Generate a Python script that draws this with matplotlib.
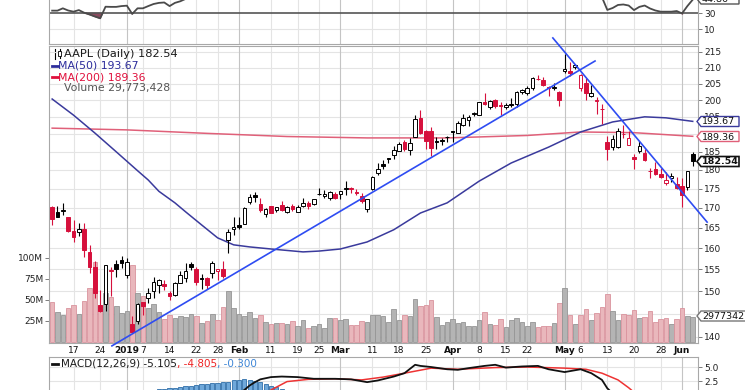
import numpy as np
import pandas as pd
import matplotlib
matplotlib.use("Agg")
import matplotlib.pyplot as plt
import matplotlib.transforms as mtransforms
from matplotlib.patches import Polygon, Rectangle
from matplotlib.lines import Line2D

plt.rcParams["font.family"] = ["DejaVu Sans"]

W, H = 745, 390

# trading days shown (Dec 11 2018 .. Jun 5 2019)
holidays = ["2018-12-25", "2019-01-01", "2019-01-21", "2019-02-18", "2019-04-19", "2019-05-27"]
dates = pd.bdate_range("2018-12-11", "2019-06-05", freq="C", holidays=holidays)
prev_close = 168.23

# dividend-adjusted OHLC as plotted
opens = [
    170.27, 169.02, 169.11, 167.63,
    164.11, 164.04, 164.66, 159.10, 155.59,
    146.95, 147.10, 154.58, 156.22,
    157.25, 153.64, 142.81, 143.36,
    147.50, 148.35, 150.06, 151.26, 151.64,
    149.63, 149.05, 151.84, 152.95, 156.22,
    155.14, 152.90, 152.86, 154.22,
    154.53, 154.98, 161.93, 164.76, 165.61,
    166.05, 171.46, 173.24, 171.00, 168.34,
    170.39, 169.45, 170.73, 169.06, 170.59,
    169.06, 170.53, 171.14, 170.92,
    173.49, 173.04, 172.54, 173.65, 173.61,
    175.02, 175.26, 174.00, 173.20, 169.67,
    174.82, 179.31, 181.55, 183.19, 184.14,
    185.09, 187.63, 185.51, 189.29, 194.59,
    190.77, 190.92, 188.03, 188.22, 189.10,
    190.90, 190.36, 192.51, 194.04, 195.70,
    195.67, 199.55, 197.92, 200.08, 198.44,
    197.82, 198.69, 198.77, 202.34,
    202.05, 203.65, 206.56, 206.04, 204.11,
    203.62, 202.28, 209.07, 209.03, 210.08,
    203.51, 205.09, 201.12, 199.63, 197.42,
    187.71, 186.41, 186.27, 189.91, 186.93,
    183.52, 185.22, 184.66, 179.80, 180.20,
    178.92, 176.42, 177.95, 176.23,
    175.60, 175.44, 184.28,
]
highs = [
    170.40, 170.53, 171.17, 167.71,
    166.99, 166.17, 166.09, 160.80, 156.88,
    150.32, 155.96, 155.50, 157.24,
    158.07, 157.56, 144.54, 147.35,
    147.62, 150.59, 153.28, 152.72, 152.46,
    150.04, 152.15, 154.62, 156.38, 156.60,
    155.46, 153.88, 153.23, 156.85,
    155.06, 156.85, 164.80, 167.63, 167.61,
    170.27, 173.66, 174.15, 172.53, 170.00,
    170.55, 170.34, 171.82, 170.60, 171.04,
    170.78, 172.65, 171.71, 172.34,
    175.19, 174.63, 174.33, 174.24, 174.48,
    177.07, 175.32, 174.82, 173.77, 172.41,
    178.43, 181.97, 182.60, 183.39, 186.61,
    187.67, 188.26, 188.76, 195.58, 196.93,
    191.24, 192.14, 189.03, 188.83, 189.35,
    190.94, 193.71, 195.75, 195.62, 196.34,
    199.46, 202.07, 199.97, 200.23, 199.37,
    199.08, 200.60, 202.60, 203.37,
    204.15, 206.95, 207.68, 206.96, 204.21,
    205.18, 202.62, 214.48, 211.83, 211.03,
    208.04, 206.62, 204.55, 200.91, 198.85,
    189.48, 189.70, 191.75, 192.47, 190.90,
    184.35, 188.00, 185.71, 180.54, 182.14,
    180.59, 179.35, 179.23, 177.99,
    177.92, 179.83, 184.99,
]
lows = [
    165.65, 167.65, 168.18, 163.94,
    161.41, 163.06, 157.80, 154.04, 148.42,
    145.40, 145.53, 148.85, 153.30,
    155.21, 152.98, 140.85, 142.64,
    144.72, 147.32, 148.42, 149.64, 150.28,
    148.01, 148.83, 151.76, 152.02, 154.72,
    151.38, 150.47, 150.51, 153.07,
    152.42, 152.86, 158.93, 163.23, 164.59,
    165.92, 170.95, 171.45, 168.96, 167.77,
    168.60, 169.05, 169.27, 168.73, 169.10,
    168.84, 170.33, 169.65, 170.72,
    173.28, 172.51, 172.07, 172.26, 172.23,
    173.30, 173.87, 173.27, 171.36, 168.85,
    174.68, 178.68, 180.23, 181.86, 183.03,
    185.08, 185.21, 184.02, 189.08, 190.05,
    185.88, 183.87, 185.83, 186.81, 187.82,
    187.66, 190.32, 192.41, 192.40, 195.18,
    195.59, 198.47, 197.42, 197.68, 195.46,
    197.25, 197.80, 197.85, 201.74,
    201.56, 203.12, 206.25, 204.33, 201.34,
    203.08, 198.35, 208.43, 207.33, 209.42,
    202.72, 200.06, 200.98, 195.90, 192.77,
    182.85, 185.41, 186.02, 188.84, 186.76,
    180.28, 184.70, 182.55, 177.81, 178.62,
    177.91, 176.00, 176.67, 174.99,
    170.27, 174.52, 181.14,
]
closes = [
    167.26, 167.73, 169.57, 164.14,
    162.61, 164.72, 159.59, 155.56, 149.51,
    145.64, 155.90, 154.89, 154.96,
    156.46, 156.64, 141.04, 147.06,
    146.73, 149.53, 152.07, 152.55, 151.06,
    148.79, 151.83, 153.69, 154.60, 155.55,
    152.06, 152.67, 151.46, 156.48,
    155.03, 153.43, 163.91, 165.09, 165.17,
    169.86, 172.77, 172.83, 169.56, 169.76,
    168.78, 170.23, 169.53, 170.14, 169.77,
    170.27, 171.37, 170.40, 172.31,
    173.56, 173.66, 174.20, 172.49, 174.30,
    175.17, 174.86, 173.85, 171.84, 172.25,
    178.21, 180.22, 181.01, 183.02, 185.41,
    187.30, 185.81, 187.44, 194.34, 190.32,
    188.02, 186.07, 187.75, 187.99, 189.22,
    190.51, 193.27, 194.60, 194.94, 196.24,
    199.33, 198.73, 199.85, 198.19, 198.11,
    198.46, 198.48, 202.35, 203.08,
    203.74, 206.68, 206.36, 204.49, 203.52,
    203.82, 199.90, 209.71, 208.35, 210.94,
    207.68, 202.08, 202.12, 199.95, 197.18,
    185.72, 188.66, 190.92, 190.08, 189.00,
    183.09, 186.60, 182.78, 179.66, 178.97,
    178.23, 177.38, 178.30, 175.07,
    173.30, 179.64, 182.54,
]
# volume, millions of shares
volumes = [
    47.3, 35.6, 31.9, 40.7,
    44.3, 33.8, 49.0, 64.8, 95.7,
    37.2, 58.6, 53.1, 42.3,
    35.0, 37.0, 91.3, 58.6,
    54.8, 41.0, 45.1, 35.8, 27.0,
    32.4, 28.7, 30.6, 29.8, 33.1,
    30.4, 23.1, 25.4, 33.5,
    26.2, 41.6, 61.1, 40.7, 32.7,
    31.5, 36.1, 28.2, 31.7, 23.8,
    20.9, 22.3, 22.5, 21.8, 24.6,
    19.0, 26.1, 17.2, 18.9,
    21.9, 17.1, 28.0, 28.2, 25.9,
    27.4, 19.7, 20.8, 24.8, 23.9,
    32.0, 32.5, 31.0, 23.6, 39.0,
    26.3, 31.6, 31.0, 51.0, 42.4,
    43.8, 49.8, 29.8, 20.8, 23.6,
    27.9, 22.8, 23.3, 19.1, 18.5,
    25.9, 35.8, 21.7, 20.6, 27.8,
    17.5, 25.7, 28.9, 24.2,
    19.4, 23.3, 17.5, 18.5, 18.6,
    22.2, 46.5, 64.8, 31.9, 20.9,
    32.4, 38.8, 26.3, 34.9, 41.2,
    57.4, 36.5, 26.5, 33.0, 32.1,
    38.6, 28.4, 29.7, 36.5, 23.7,
    27.9, 28.5, 21.2, 27.0,
    40.4, 31.0, 29.8,
]

# moving averages (trading-day index, price)
ma50_x = [0, 4, 8, 12, 16, 18, 20, 23, 25, 28, 31, 34, 37, 41, 47, 50, 54, 59, 64, 69, 74, 80, 86, 93, 99, 105, 111, 115, 120]
ma50_y = [200.3, 195.5, 190.3, 185.0, 179.8, 177.3, 174.3, 171.3, 169.0, 165.7, 162.5, 160.8, 160.3, 159.8, 159.1, 159.3,
          159.8, 161.5, 164.5, 168.7, 171.3, 177.0, 181.9, 186.3, 190.6, 193.5, 195.0, 194.7, 193.67]
ma200_x = [0, 14, 29, 44, 59, 74, 89, 99, 109, 120]
ma200_y = [191.7, 191.2, 190.2, 189.3, 188.9, 188.9, 189.6, 190.6, 190.4, 189.36]

# hand-drawn trend lines (index, price)
trend_up = ([11.2, 101.7], [138.1, 212.1])
trend_down = ([93.8, 122.7], [219.6, 166.4])

# RSI(14), visible parts only
rsi_left_x = list(range(0, 26))
rsi_left = [33.3, 33.3, 36.2, 33.5, 32.0, 34.0, 30.7, 28.5, 26.0, 23.7, 38.2, 38.0, 38.0, 39.0, 39.5, 29.2,
            36.2, 36.2, 39.0, 41.6, 43.0, 43.5, 39.0, 43.0, 45.0, 48.0]
rsi_right_x = list(range(103, 121))
rsi_right = [50.0, 34.2, 36.6, 40.4, 41.0, 39.7, 34.0, 38.0, 39.7, 36.0, 33.5, 32.0, 32.0, 32.0, 32.8, 29.8, 39.0, 47.0]

# MACD(12,26,9)
macd_x = [34, 36, 37, 38, 39, 41, 43, 46, 49, 53, 56, 59, 61, 64, 66, 68, 69, 71, 74, 76, 78, 81, 83, 85, 88, 91,
          93, 96, 99, 101, 103, 104, 105]
macd_y = [-0.3, 0.9, 1.7, 2.3, 2.8, 3.2, 3.3, 3.2, 2.9, 2.9, 2.8, 2.3, 2.6, 3.3, 3.9, 5.4, 5.2, 5.0, 4.6, 4.5, 4.8,
          5.2, 5.4, 4.9, 5.1, 5.2, 4.6, 4.1, 4.6, 3.9, 2.7, 1.2, 0.3]
signal_x = [40, 41, 44, 48, 53, 58, 62, 66, 71, 76, 83, 89, 96, 100, 103, 106, 108, 109]
signal_y = [0.4, 0.9, 2.4, 2.8, 2.9, 2.7, 3.2, 3.9, 4.8, 4.6, 4.9, 5.0, 4.8, 4.6, 3.9, 2.7, 1.3, 0.5]
hist_x = list(range(20, 44))
hist_y = [1.0, 1.1, 1.2, 1.3, 1.5, 1.6, 1.7, 1.8, 1.9, 2.0, 2.1, 2.2, 2.3, 2.4, 2.6, 2.7, 2.8, 2.7, 2.5, 2.3,
          2.0, 1.7, 1.4, 1.1]

tick_dates = ["2018-12-17", "2018-12-24", "2019-01-02", "2019-01-07", "2019-01-14", "2019-01-22", "2019-01-28",
              "2019-02-01", "2019-02-11", "2019-02-19", "2019-02-25", "2019-03-01", "2019-03-11", "2019-03-18",
              "2019-03-25", "2019-04-01", "2019-04-08", "2019-04-15", "2019-04-22", "2019-05-01", "2019-05-06",
              "2019-05-13", "2019-05-20", "2019-05-28", "2019-06-03"]
tick_labels = ["17", "24", "2019", "7", "14", "22", "28", "Feb", "11", "19", "25", "Mar", "11", "18", "25", "Apr",
               "8", "15", "22", "May", "6", "13", "20", "28", "Jun"]
price_ticks = list(range(140, 220, 5))
hidden_price_labels = [145, 190]   # sit under the value flags
vol_ticks = [25, 50, 75, 100]

RED = "#d6103c"
GRID = "#e4e4e4"
MGRID = "#c4c4c4"
FRAME = "#a8a8a8"

fig = plt.figure(figsize=(W / 100, H / 100), dpi=100)
px = mtransforms.Affine2D().scale(1 / W, -1 / H).translate(0, 1) + fig.transFigure


def rect(l, t, r, b):
    return [l / W, 1 - b / H, (r - l) / W, (b - t) / H]


xlim = (-0.59, 120.99)
pos = np.arange(len(dates))
tpos = [dates.get_loc(pd.Timestamp(d)) for d in tick_dates]
is_month = [not lab.isdigit() or lab == "2019" for lab in tick_labels]


def vgrid(ax):
    for p, m in zip(tpos, is_month):
        ax.axvline(p, color=MGRID if m else GRID, lw=0.8, zorder=0)


def frame(ax):
    for s in ax.spines.values():
        s.set_color(FRAME)
        s.set_linewidth(0.8)


# ---------------- main panel ----------------
axv = fig.add_axes(rect(49, 46, 698, 343), zorder=1)
axp = fig.add_axes(rect(49, 46, 698, 343), zorder=2)
axp.patch.set_visible(False)
axv.set_xlim(*xlim)
axp.set_xlim(*xlim)
axv.set_ylim(-1.2, 352)
axv.set_xticks([])
axv.set_yticks(vol_ticks, labels=[f"{v}M" for v in vol_ticks])
axv.tick_params(axis="y", length=3, width=0.6, color="#666", labelsize=6.5, pad=1, labelcolor="#222")
for s in axv.spines.values():
    s.set_visible(False)

axp.set_yscale("log")
axp.set_ylim(138.7, 216.95)
axp.set_yticks(price_ticks, labels=["" if v in hidden_price_labels else str(v) for v in price_ticks])
axp.minorticks_off()
axp.yaxis.tick_right()
axp.tick_params(axis="y", length=3, width=0.6, color="#666", labelsize=6.5, pad=1.5, labelcolor="#222")
axp.set_xticks(tpos, labels=tick_labels)
axp.tick_params(axis="x", length=0, labelsize=6.5, pad=2, labelcolor="#111")
for lab, m in zip(axp.get_xticklabels(), is_month):
    if m:
        lab.set_fontweight("bold")
frame(axp)
for v in price_ticks:
    axp.axhline(v, color=GRID, lw=0.8, zorder=0)
vgrid(axp)

o = np.array(opens)
hi = np.array(highs)
lo = np.array(lows)
c = np.array(closes)
prev = np.r_[prev_close, c[:-1]]
up = c >= prev
ccol = np.where(up, "black", RED)

# volume bars behind the candles, on the linear volume scale
vol_trans = mtransforms.blended_transform_factory(axp.transData, axv.transData)
for p, v, u in zip(pos, volumes, up):
    axp.add_patch(Rectangle((p - 0.43, 0), 0.86, v, transform=vol_trans,
                            facecolor="#b4b4b4" if u else "#e9b7bc",
                            edgecolor="#959595" if u else "#d9939d", lw=0.6, zorder=1))

axp.plot(ma200_x, ma200_y, color="#e06079", lw=1.1, zorder=2)
axp.plot(ma50_x, ma50_y, color="#3a3a9c", lw=1.1, zorder=2)

axp.vlines(pos, lo, hi, colors=ccol, lw=0.8, zorder=3)
bottom = np.minimum(o, c)
height = np.maximum(np.abs(c - o), 0.08)
face = np.where(c > o, "white", ccol)
axp.bar(pos, height, bottom=bottom, width=0.68, color=face, edgecolor=ccol, lw=0.7, zorder=4)

axp.plot(*trend_up, color="#2e4cf2", lw=1.2, zorder=5, clip_on=False)
axp.plot(*trend_down, color="#2e4cf2", lw=1.2, zorder=5, clip_on=False)

# ---------------- RSI panel (cropped at top) ----------------
axr = fig.add_axes(rect(49, -30, 698, 44), zorder=1)
axr.set_xlim(*xlim)
axr.set_ylim(-8.4, 84.1)
axr.set_xticks([])
axr.set_yticks([10, 30], labels=["10", "30"])
axr.yaxis.tick_right()
axr.tick_params(axis="y", length=3, width=0.6, color="#666", labelsize=6.5, pad=1.5, labelcolor="#222")
frame(axr)
axr.axhline(10, color=GRID, lw=0.8, zorder=0)
vgrid(axr)
axr.axhline(30, color="#555555", lw=1.2, zorder=2)
for xs, ys in ((rsi_left_x, rsi_left), (rsi_right_x, rsi_right)):
    xs = np.array(xs, float)
    ys = np.array(ys)
    axr.fill_between(xs, ys, 30, where=ys < 30, interpolate=True, color="#8a4a5e", zorder=1)
    axr.plot(xs, ys, color="#4a4a4a", lw=1.3, zorder=3)

# ---------------- MACD panel (cropped at bottom) ----------------
axm = fig.add_axes(rect(49, 357, 698, 420), zorder=1)
axm.set_xlim(*xlim)
axm.set_ylim(-4.46, 6.79)
axm.set_xticks([])
axm.set_yticks([2.5, 5.0], labels=["2.5", "5.0"])
axm.yaxis.tick_right()
axm.tick_params(axis="y", length=3, width=0.6, color="#666", labelsize=6.5, pad=1.5, labelcolor="#222")
frame(axm)
for v in (2.5, 5.0):
    axm.axhline(v, color=GRID, lw=0.8, zorder=0)
vgrid(axm)
axm.bar(hist_x, hist_y, width=0.8, color="#6fa8da", edgecolor="#2f6ea8", lw=0.6, zorder=1)
axm.plot(signal_x, signal_y, color="#ee3333", lw=1.1, zorder=2)
axm.plot(macd_x, macd_y, color="#111111", lw=1.3, zorder=3)

# ---------------- legends ----------------
fig.canvas.draw()
rend = fig.canvas.get_renderer()


def seq_text(x, y, parts, size):
    for s, col in parts:
        t = fig.text(x, y, s, transform=px, color=col, fontsize=size, va="center", ha="left", zorder=12)
        x += t.get_window_extent(renderer=rend).width


# candle glyph
fig.add_artist(Line2D([54.5, 54.5], [49, 59], transform=px, color="black", lw=0.8))
fig.add_artist(Rectangle((53, 51), 3, 6, transform=px, facecolor="black", edgecolor="black", lw=0.6))
fig.add_artist(Line2D([59.5, 59.5], [49, 58], transform=px, color="black", lw=0.8))
fig.add_artist(Rectangle((58, 51), 3, 5, transform=px, facecolor="white", edgecolor="black", lw=0.6, zorder=3))
seq_text(64, 54, [("AAPL (Daily) 182.54", "#1a1a1a")], 8.2)
fig.add_artist(Line2D([52, 57.5], [65.5, 65.5], transform=px, color="#2b2b9b", lw=2))
seq_text(58, 66, [("MA(50) 193.67", "#2b2b9b")], 7.8)
fig.add_artist(Line2D([52, 57.5], [77, 77], transform=px, color="#e0103c", lw=2))
seq_text(58, 77.5, [("MA(200) 189.36", "#e0103c")], 7.8)
for i, hgt in enumerate([5, 8, 6, 4]):
    fig.add_artist(Rectangle((53 + i * 2.5, 92 - hgt), 2, hgt, transform=px, facecolor="#777", lw=0))
seq_text(64, 88, [("Volume 29,773,428", "#555555")], 7.8)

fig.add_artist(Line2D([52, 58], [364, 364], transform=px, color="#111", lw=2))
seq_text(61, 364, [("MACD(12,26,9) -5.105", "#1a1a1a"), (", -4.805", "#ee2222"), (", -0.300", "#3d85d6")], 7.5)


# ---------------- right-hand value flags ----------------
def flag(yc, label, edge, bold=False, h=10, tip=697, right=739, lw=1.0):
    pts = [(tip, yc), (tip + 4, yc - h / 2), (right, yc - h / 2), (right, yc + h / 2), (tip + 4, yc + h / 2)]
    fig.add_artist(Polygon(pts, closed=True, transform=px, facecolor="white", edgecolor=edge, lw=lw, zorder=10))
    fig.text(tip + 5, yc + 0.5, label, transform=px, fontsize=6.8, va="center", ha="left", color="#111",
             fontweight="bold" if bold else "normal", zorder=11)


flag(121.5, "193.67", "#3a3a9c")
flag(136.5, "189.36", "#e06079")
flag(161.5, "182.54", "#111111", bold=True, lw=1.2)
flag(316, "2977342", "#777777", right=760)
flag(-1, "44.86", "#555555")

fig.savefig("out.png", dpi=100)
